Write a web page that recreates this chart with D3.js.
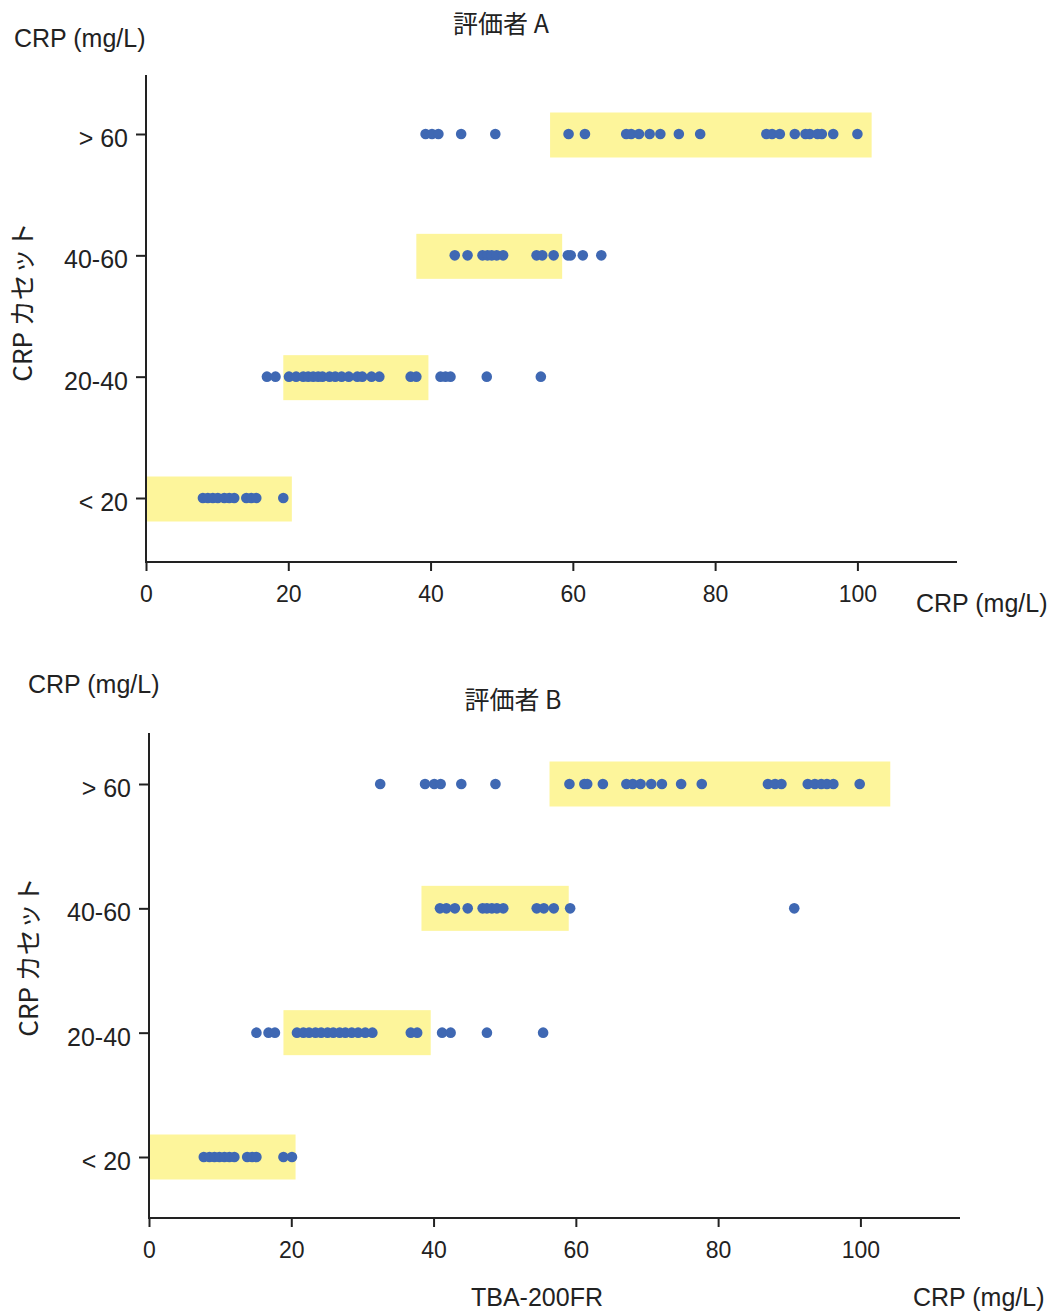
<!DOCTYPE html>
<html lang="ja">
<head>
<meta charset="UTF-8">
<title>CRP カセット 評価者 A / B</title>
<style>
    body { margin: 0; background: #fff; }
    svg { font-family: "Liberation Sans", Arial, sans-serif; }
    .jp { font-family: "Noto Sans CJK JP", "Liberation Sans", sans-serif; }
    .axis path, .axis line { stroke: #222; stroke-width: 2; }
    .axis text { font-size: 23px; fill: #222; }
    .yaxis text { font-size: 25px; }
</style>
</head>
<body>
<svg id="chart" width="1050" height="1312"></svg>
<script src="https://d3js.org/d3.v7.min.js"></script>
<script>
// categories (top to bottom)
var categories = ["> 60", "40-60", "20-40", "< 20"];
var xTicks = [0, 20, 40, 60, 80, 100];

// 評価者 A : CRP (mg/L) for each cassette category
var aGt60 = [39.3, 40.2, 41.1, 44.3, 49.1, 59.4, 61.7, 67.5, 68.2, 69.3, 70.8, 72.3, 74.9, 77.9,
             87.2, 88.0, 89.1, 91.2, 92.7, 93.3, 94.4, 95.0, 96.6, 100.0];
var a4060 = [43.4, 45.2, 47.3, 48.0, 48.6, 49.3, 50.2, 54.9, 55.7, 57.3, 59.3, 59.7, 61.4, 64.0];
var a2040 = [17.0, 18.2, 20.1, 21.1, 22.1, 22.8, 23.5, 24.2, 24.8, 25.8, 26.6, 27.5, 28.5, 29.7,
             30.4, 31.7, 32.8, 37.2, 38.0, 41.4, 42.1, 42.8, 47.9, 55.5];
var aLt20 = [8.0, 8.7, 9.4, 10.1, 11.0, 11.7, 12.4, 14.1, 14.8, 15.5, 19.3];
// yellow ranges
var aBoxLo = [56.8, 38.0, 19.3, 0];
var aBoxHi = [102.0, 58.5, 39.7, 20.5];

// 評価者 B
var bGt60 = [32.5, 38.8, 40.1, 41.0, 43.9, 48.7, 59.1, 61.2, 61.6, 63.8, 67.1, 68.0, 69.1, 70.6, 72.1,
             74.8, 77.7, 87.0, 88.0, 88.9, 92.6, 93.6, 94.5, 95.3, 96.2, 99.9];
var b4060 = [40.9, 41.8, 43.0, 44.8, 46.9, 47.5, 48.2, 48.9, 49.8, 54.5, 55.5, 56.9, 59.2, 90.7];
var b2040 = [15.1, 16.8, 17.7, 20.8, 21.7, 22.5, 23.4, 24.2, 25.1, 25.9, 26.8, 27.6, 28.5, 29.4,
             30.4, 31.4, 36.8, 37.7, 41.2, 42.4, 47.5, 55.4];
var bLt20 = [7.7, 8.5, 9.2, 9.9, 10.6, 11.3, 12.0, 13.8, 14.5, 15.1, 18.9, 20.1];
var bBoxLo = [56.3, 38.3, 18.9, 0];
var bBoxHi = [104.2, 59.0, 39.6, 20.6];

var svg = d3.select("#chart");

function drawPanel(p) {
    var x = d3.scaleLinear().domain([0, 114]).range([p.left, p.right]);
    var y = d3.scalePoint().domain(categories).range([p.rowTop, p.rowBottom]);
    var g = svg.append("g");

    // yellow boxes
    g.selectAll("rect.box")
        .data(categories)
        .enter().append("rect")
        .attr("class", "box")
        .attr("x", function (d, i) { return x(p.boxLo[i]); })
        .attr("width", function (d, i) { return x(p.boxHi[i]) - x(p.boxLo[i]); })
        .attr("y", function (d) { return y(d) - 22.5 + p.boxShift; })
        .attr("height", 45)
        .attr("fill", "#fdf59b");

    // dots
    var pts = [];
    categories.forEach(function (c, i) {
        p.values[i].forEach(function (v) { pts.push({ cat: c, v: v }); });
    });
    g.selectAll("circle")
        .data(pts)
        .enter().append("circle")
        .attr("cx", function (d) { return x(d.v); })
        .attr("cy", function (d) { return y(d.cat); })
        .attr("r", 5.3)
        .attr("fill", "#3f68b3");

    // axes
    var xAxis = g.append("g")
        .attr("class", "axis")
        .attr("transform", "translate(0," + p.bottom + ")")
        .call(d3.axisBottom(x).tickValues(xTicks).tickSize(9).tickPadding(15).tickSizeOuter(0));
    xAxis.select(".domain").remove();
    g.append("line")
        .attr("x1", p.left).attr("x2", p.right)
        .attr("y1", p.bottom).attr("y2", p.bottom)
        .attr("stroke", "#222").attr("stroke-width", 2);

    var yAxis = g.append("g")
        .attr("class", "axis yaxis")
        .attr("transform", "translate(" + p.left + ",0)")
        .call(d3.axisLeft(y).tickSize(10).tickPadding(8));
    yAxis.select(".domain").remove();
    yAxis.selectAll(".tick text").attr("dy", "0.5em");
    g.append("line")
        .attr("x1", p.left).attr("x2", p.left)
        .attr("y1", p.top).attr("y2", p.bottom + 1)
        .attr("stroke", "#222").attr("stroke-width", 2);

    // texts
    g.append("text")
        .attr("x", p.unitX).attr("y", p.unitY)
        .attr("font-size", 25).attr("fill", "#222")
        .text("CRP (mg/L)");
    g.append("text")
        .attr("class", "jp")
        .attr("x", p.titleX).attr("y", p.titleY)
        .attr("text-anchor", "middle")
        .attr("font-size", 25).attr("fill", "#222")
        .text(p.title);
    g.append("text")
        .attr("class", "jp")
        .attr("transform", "translate(" + p.yLabelX + "," + p.yLabelY + ") rotate(-90)")
        .attr("text-anchor", "middle")
        .attr("font-size", 26).attr("fill", "#222")
        .text("CRP カセット");
    g.append("text")
        .attr("x", p.xLabelX).attr("y", p.xLabelY)
        .attr("font-size", 25).attr("fill", "#222")
        .text("CRP (mg/L)");
}

drawPanel({
    title: "評価者 A",
    values: [aGt60, a4060, a2040, aLt20],
    boxLo: aBoxLo, boxHi: aBoxHi, boxShift: 1,
    left: 146, right: 957, top: 75, bottom: 562,
    rowTop: 134, rowBottom: 498,
    unitX: 14, unitY: 47,
    titleX: 501, titleY: 33,
    yLabelX: 32, yLabelY: 302,
    xLabelX: 916, xLabelY: 612
});

drawPanel({
    title: "評価者 B",
    values: [bGt60, b4060, b2040, bLt20],
    boxLo: bBoxLo, boxHi: bBoxHi, boxShift: 0,
    left: 149, right: 960, top: 733, bottom: 1218,
    rowTop: 784, rowBottom: 1157,
    unitX: 28, unitY: 693,
    titleX: 513, titleY: 709,
    yLabelX: 38, yLabelY: 957,
    xLabelX: 913, xLabelY: 1306
});

svg.append("text")
    .attr("x", 537).attr("y", 1306)
    .attr("text-anchor", "middle")
    .attr("font-size", 25).attr("fill", "#222")
    .text("TBA-200FR");
</script>
</body>
</html>
